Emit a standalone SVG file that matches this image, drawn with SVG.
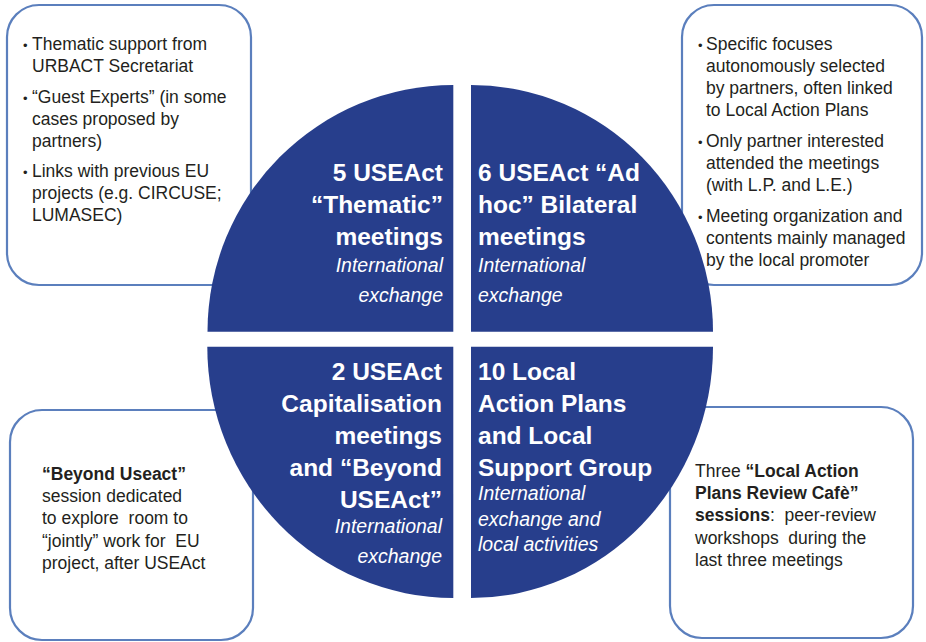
<svg xmlns="http://www.w3.org/2000/svg" width="926" height="642" viewBox="0 0 926 642">
  <style>
    .box { fill: #ffffff; stroke: #5b7fbd; stroke-width: 2.2; }
    .quad { fill: #273e8c; }
    .note { font-family: "Liberation Sans", Arial, sans-serif; font-size: 17.5px; fill: #231f20; white-space: pre; }
    .note .b { font-weight: bold; }
    .dot { font-size: 13px; }
    .head { font-family: "Liberation Sans", Arial, sans-serif; font-size: 24.5px; font-weight: bold; fill: #ffffff; }
    .sub { font-family: "Liberation Sans", Arial, sans-serif; font-size: 19.5px; font-style: italic; fill: #ffffff; }
    .end { text-anchor: end; }
  </style>

  <!-- side notes (drawn first, the disc overlaps them) -->
  <g id="note-thematic">
    <rect class="box" x="7" y="5" width="244" height="280" rx="32"/>
    <text class="note">
      <tspan x="23" y="50" class="dot">•</tspan><tspan x="32" y="50">Thematic support from</tspan>
      <tspan x="32" y="72">URBACT Secretariat</tspan>
      <tspan x="23" y="103" class="dot">•</tspan><tspan x="32" y="103">“Guest Experts” (in some</tspan>
      <tspan x="32" y="125">cases proposed by</tspan>
      <tspan x="32" y="147">partners)</tspan>
      <tspan x="23" y="177" class="dot">•</tspan><tspan x="32" y="177">Links with previous EU</tspan>
      <tspan x="32" y="199">projects (e.g. CIRCUSE;</tspan>
      <tspan x="32" y="221">LUMASEC)</tspan>
    </text>
  </g>

  <g id="note-bilateral">
    <rect class="box" x="682" y="5" width="240" height="280" rx="32"/>
    <text class="note">
      <tspan x="698" y="50" class="dot">•</tspan><tspan x="706" y="50">Specific focuses</tspan>
      <tspan x="706" y="72">autonomously selected</tspan>
      <tspan x="706" y="94">by partners, often linked</tspan>
      <tspan x="706" y="116">to Local Action Plans</tspan>
      <tspan x="698" y="147" class="dot">•</tspan><tspan x="706" y="147">Only partner interested</tspan>
      <tspan x="706" y="169">attended the meetings</tspan>
      <tspan x="706" y="191">(with L.P. and L.E.)</tspan>
      <tspan x="698" y="222" class="dot">•</tspan><tspan x="706" y="222">Meeting organization and</tspan>
      <tspan x="706" y="244">contents mainly managed</tspan>
      <tspan x="706" y="266">by the local promoter</tspan>
    </text>
  </g>

  <g id="note-beyond">
    <rect class="box" x="10" y="410" width="243" height="230" rx="32"/>
    <text class="note">
      <tspan x="42" y="480" class="b">“Beyond Useact”</tspan>
      <tspan x="42" y="502">session dedicated</tspan>
      <tspan x="42" y="524">to explore  room to</tspan>
      <tspan x="42" y="547">“jointly” work for  EU</tspan>
      <tspan x="42" y="569">project, after USEAct</tspan>
    </text>
  </g>

  <g id="note-cafe">
    <rect class="box" x="670" y="407" width="243" height="231" rx="32"/>
    <text class="note">
      <tspan x="695" y="477">Three </tspan><tspan class="b">“Local Action</tspan>
      <tspan x="695" y="499" class="b">Plans Review Cafè”</tspan>
      <tspan x="695" y="521" class="b">sessions</tspan><tspan>:  peer-review</tspan>
      <tspan x="695" y="544">workshops  during the</tspan>
      <tspan x="695" y="566">last three meetings</tspan>
    </text>
  </g>

  <!-- disc split into four quarters -->
  <g id="q-thematic">
    <path class="quad" d="M453.3,331.7 H207.5 A246,246.7 0 0 1 453.3,85 Z"/>
    <text class="head end"><tspan x="443" y="181">5 USEAct</tspan><tspan x="443" y="213">“Thematic”</tspan><tspan x="443" y="245">meetings</tspan></text>
    <text class="sub end"><tspan x="443" y="272">International</tspan><tspan x="443" y="302">exchange</tspan></text>
  </g>

  <g id="q-bilateral">
    <path class="quad" d="M471,331.7 V85 A242,246.7 0 0 1 713,331.7 Z"/>
    <text class="head"><tspan x="478" y="181">6 USEAct “Ad</tspan><tspan x="478" y="213">hoc” Bilateral</tspan><tspan x="478" y="245">meetings</tspan></text>
    <text class="sub"><tspan x="478" y="272">International</tspan><tspan x="478" y="302">exchange</tspan></text>
  </g>

  <g id="q-capitalisation">
    <path class="quad" d="M453.3,346.7 V598 A246,251.3 0 0 1 207.3,346.7 Z"/>
    <text class="head end"><tspan x="442" y="380">2 USEAct</tspan><tspan x="442" y="412">Capitalisation</tspan><tspan x="442" y="444">meetings</tspan><tspan x="442" y="476">and “Beyond</tspan><tspan x="442" y="508">USEAct”</tspan></text>
    <text class="sub end"><tspan x="442" y="533">International</tspan><tspan x="442" y="563">exchange</tspan></text>
  </g>

  <g id="q-local">
    <path class="quad" d="M471,346.7 H713 A242,251.3 0 0 1 471,598 Z"/>
    <text class="head"><tspan x="478" y="380">10 Local</tspan><tspan x="478" y="412">Action Plans</tspan><tspan x="478" y="444">and Local</tspan><tspan x="478" y="476">Support Group</tspan></text>
    <text class="sub"><tspan x="478" y="500">International</tspan><tspan x="478" y="526">exchange and</tspan><tspan x="478" y="551">local activities</tspan></text>
  </g>

  <g id="connectors"/>
</svg>
